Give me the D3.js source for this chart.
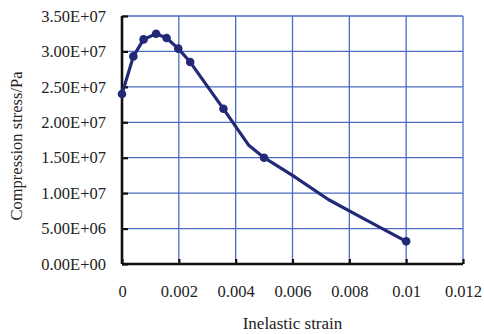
<!DOCTYPE html>
<html><head><meta charset="utf-8">
<script src="https://cdn.jsdelivr.net/npm/d3@7"></script>
<style>
html,body{margin:0;padding:0;background:#fff;}
svg text{font-family:"Liberation Serif","Times New Roman",serif;fill:#222;}
</style></head>
<body><svg id="c" width="484" height="334"></svg>
<script>
// Data
const strain = [0, 0.0004, 0.00076, 0.0012, 0.00157, 0.00198, 0.0024, 0.00357, 0.00445, 0.005, 0.006, 0.00726, 0.0086, 0.01];
const stress = [2.40e7, 2.93e7, 3.17e7, 3.25e7, 3.19e7, 3.04e7, 2.85e7, 2.19e7, 1.68e7, 1.50e7, 1.25e7, 9.1e6, 6.2e6, 3.2e6];
const hasMarker = [1,1,1,1,1,1,1,1,0,1,0,0,0,1];
const xTickValues = [0, 0.002, 0.004, 0.006, 0.008, 0.01, 0.012];
const xTickLabels = ["0", "0.002", "0.004", "0.006", "0.008", "0.01", "0.012"];
const yTickValues = [0, 5e6, 1e7, 1.5e7, 2e7, 2.5e7, 3e7, 3.5e7];
const yTickLabels = ["0.00E+00", "5.00E+06", "1.00E+07", "1.50E+07", "2.00E+07", "2.50E+07", "3.00E+07", "3.50E+07"];
const xTitle = "Inelastic strain";
const yTitle = "Compression stress/Pa";

const svg = d3.select("#c");
const L = 122, R = 463, T = 16, B = 264;
const x = d3.scaleLinear().domain([0, 0.012]).range([L, R]);
const y = d3.scaleLinear().domain([0, 3.5e7]).range([B, T]);
const gridColor = "#4a6dc3";
const lineColor = "#222a78";

// grid
const g = svg.append("g");
g.selectAll("line.v").data(xTickValues.slice(1)).join("line")
  .attr("x1", d => x(d)).attr("x2", d => x(d)).attr("y1", T).attr("y2", B)
  .attr("stroke", gridColor).attr("stroke-width", 1.3);
g.selectAll("line.h").data(yTickValues.slice(1)).join("line")
  .attr("x1", L).attr("x2", R).attr("y1", d => y(d)).attr("y2", d => y(d))
  .attr("stroke", gridColor).attr("stroke-width", 1.3);

// axes
const xAxis = d3.axisBottom(x).tickValues(xTickValues).tickSize(-5).tickFormat((d,i) => xTickLabels[i]).tickPadding(21);
const yAxis = d3.axisLeft(y).tickValues(yTickValues).tickSize(-6).tickFormat((d,i) => yTickLabels[i]).tickPadding(16);
const gx = svg.append("g").attr("transform", `translate(0,${B})`).call(xAxis);
const gy = svg.append("g").attr("transform", `translate(${L},0)`).call(yAxis);
[gx, gy].forEach(a => {
  a.select(".domain").attr("stroke", "#111").attr("stroke-width", 2.6);
  a.selectAll(".tick line").attr("stroke", "#111").attr("stroke-width", 2.2);
  a.selectAll(".tick text").attr("font-size", 16.5).attr("font-family", "Liberation Serif, Times New Roman, serif").attr("fill", "#222");
});
gx.select(".domain").attr("d", `M${L},0H${R}`);
gy.select(".domain").attr("d", `M0,${B}V${T}`);

// series
const pts = strain.map((s, i) => ({s, v: stress[i], m: hasMarker[i]}));
const line = d3.line().x(d => x(d.s)).y(d => y(d.v));
svg.append("path").datum(pts).attr("d", line)
  .attr("fill", "none").attr("stroke", lineColor).attr("stroke-width", 3.2).attr("stroke-linejoin", "round");
svg.selectAll("circle.m").data(pts.filter(d => d.m)).join("circle")
  .attr("cx", d => x(d.s)).attr("cy", d => y(d.v)).attr("r", 4.3).attr("fill", lineColor);

// titles
svg.append("text").attr("x", (L + R) / 2).attr("y", 329).attr("text-anchor", "middle")
  .attr("font-size", 17).text(xTitle);
svg.append("text").attr("transform", `translate(22,146) rotate(-90)`).attr("text-anchor", "middle")
  .attr("font-size", 16.5).text(yTitle);
</script></body></html>
